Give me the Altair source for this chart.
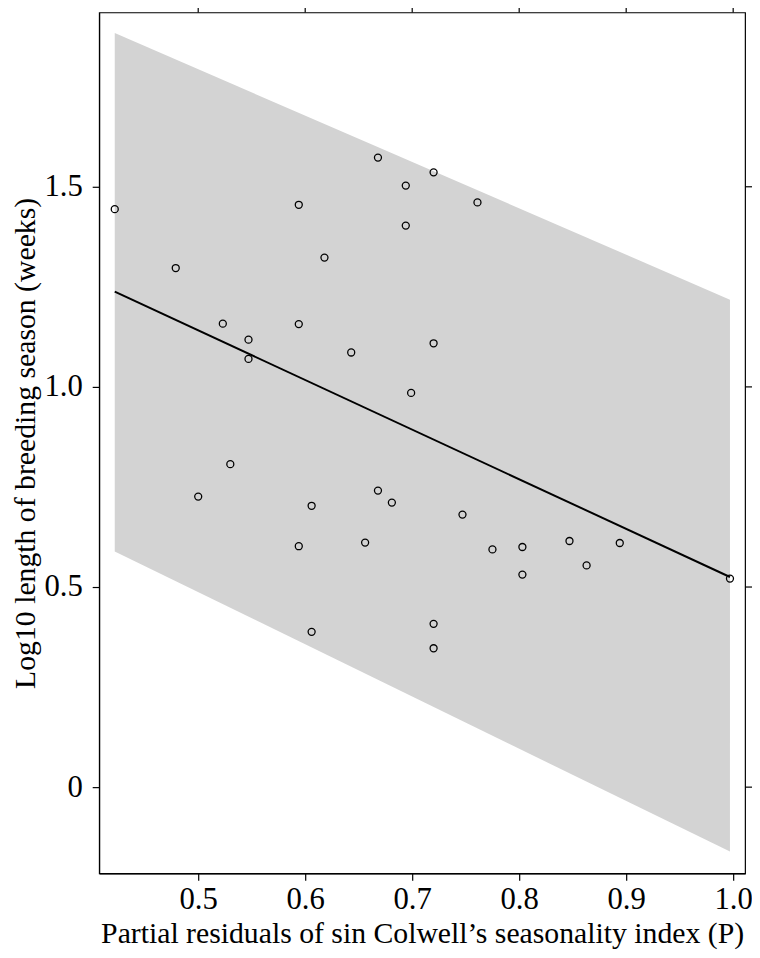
import altair as alt
import pandas as pd

# scatter points (partial residuals, log10 breeding season length)
px = [0.422, 0.594, 0.479, 0.523, 0.594, 0.547, 0.547,
      0.668, 0.720, 0.694, 0.761, 0.694, 0.618, 0.643, 0.720, 0.699,
      0.530, 0.500, 0.606, 0.594, 0.606,
      0.668, 0.681, 0.747, 0.656, 0.775, 0.803, 0.803, 0.720, 0.720,
      0.847, 0.894, 0.863, 0.997]
py = [1.444, 1.455, 1.297, 1.158, 1.157, 1.118, 1.070,
      1.573, 1.536, 1.503, 1.461, 1.403, 1.323, 1.086, 1.109, 0.985,
      0.807, 0.726, 0.703, 0.602, 0.388,
      0.741, 0.711, 0.681, 0.611, 0.594, 0.600, 0.531, 0.408, 0.347,
      0.615, 0.610, 0.554, 0.521]

# fitted line and prediction band
fit_x = [0.422, 0.997]
fit_y = [1.238, 0.525]
band_upper = [1.884, 1.218]
band_lower = [0.589, -0.161]

x_ticks = [0.5, 0.6, 0.7, 0.8, 0.9, 1.0]
y_ticks = [0, 0.5, 1.0, 1.5]

pts = pd.DataFrame({"x": px, "y": py})
fit = pd.DataFrame({"x": fit_x, "y": fit_y, "lo": band_lower, "hi": band_upper})
xt = pd.DataFrame({"v": x_ticks})
yt = pd.DataFrame({"v": y_ticks})

W, H = 652, 869
xs = alt.Scale(domain=[0.40741, 1.01111], nice=False, zero=False)
ys = alt.Scale(domain=[-0.2153, 1.9356], nice=False, zero=False)

FONT = "Liberation Serif"

xaxis = alt.Axis(values=x_ticks, format=".1f",
                 title="Partial residuals of sin Colwell\u2019s seasonality index (P)",
                 orient="bottom", labelPadding=5,
                 titleY=70, titleBaseline="alphabetic")
yaxis = alt.Axis(values=y_ticks, labelExpr="datum.value == 0 ? '0' : format(datum.value, '.1f')",
                 title="Log10 length of breeding season (weeks)", orient="left",
                 labelPadding=10, titlePadding=4)

band = alt.Chart(fit).mark_area(color="#d3d3d3", opacity=1).encode(
    x=alt.X("x:Q", scale=xs, axis=xaxis),
    y=alt.Y("hi:Q", scale=ys, axis=yaxis),
    y2="lo:Q",
)

line = alt.Chart(fit).mark_line(color="black", strokeWidth=2).encode(
    x=alt.X("x:Q", scale=xs),
    y=alt.Y("y:Q", scale=ys),
)

points = alt.Chart(pts).mark_point(shape="circle", filled=False, color="black",
                                   size=50, strokeWidth=1.3, opacity=1).encode(
    x=alt.X("x:Q", scale=xs),
    y=alt.Y("y:Q", scale=ys),
)

# tick marks on the top and right edges of the frame (no labels)
top_ticks = alt.Chart(xt).mark_rule(color="black", strokeWidth=1.2).encode(
    x=alt.X("v:Q", scale=xs),
    y=alt.value(-7), y2=alt.value(0),
)
right_ticks = alt.Chart(yt).mark_rule(color="black", strokeWidth=1.2).encode(
    y=alt.Y("v:Q", scale=ys),
    x=alt.value(W), x2=alt.value(W + 7),
)

chart = alt.layer(band, line, points, top_ticks, right_ticks).properties(
    width=W, height=H,
    autosize=alt.AutoSizeParams(type="none"),
    padding={"left": 92, "top": 0, "right": 7, "bottom": 81},
).configure_view(
    stroke="black", strokeWidth=1.2
).configure_axis(
    grid=False,
    domainColor="black", domainWidth=1.2,
    tickColor="black", tickWidth=1.2, tickSize=7,
    labelFont=FONT, labelFontSize=31, labelColor="black",
    titleFont=FONT, titleFontSize=30, titleColor="black", titleFontWeight="normal",
)

chart.save("out.html", embed_options={"renderer": "svg", "actions": False})
